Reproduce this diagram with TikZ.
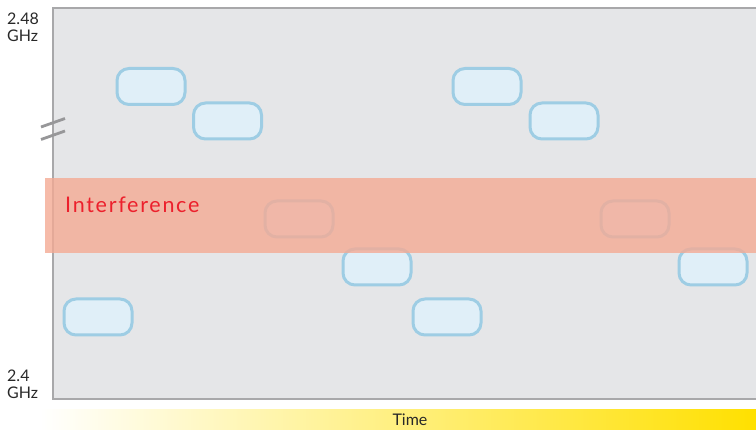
\documentclass[tikz,border=0pt]{standalone}
\usepackage{fontspec}
\setmainfont{Lato}
\usetikzlibrary{shadings}
\definecolor{plotbg}{RGB}{229,230,232}
\definecolor{framegray}{RGB}{168,168,170}
\definecolor{boxfill}{RGB}{224,239,248}
\definecolor{boxline}{RGB}{158,205,228}
\definecolor{bandcol}{RGB}{244,170,148}
\definecolor{intred}{RGB}{236,32,44}
\definecolor{timeyellow}{RGB}{255,224,0}
\definecolor{labelgray}{RGB}{40,40,40}
\tikzset{
  slot/.style={draw=boxline, fill=boxfill, line width=3pt, rounded corners=12pt,
    minimum width=68pt, minimum height=36pt, inner sep=0pt},
  axislabel/.style={text=labelgray, font=\fontsize{16}{17}\selectfont, align=left, anchor=north west, inner sep=0pt},
  framestyle/.style={draw=framegray, line width=1.5pt},
  breakstyle/.style={draw=framegray!90!black, line width=2.8pt}
}
\begin{document}
\begin{tikzpicture}[x=1pt,y=-1pt]
\useasboundingbox (0,0) rectangle (756,430);
% plot area
\fill[plotbg] (53,8) rectangle (760,399);
% slots
\node[slot] (s1) at (151,86.5) {};
\node[slot] (s2) at (227.5,121) {};
\node[slot] (s3) at (299,219) {};
\node[slot] (s4) at (377,267) {};
\node[slot] (s5) at (447,317) {};
\node[slot] (s6) at (98,317) {};
\node[slot] (s7) at (487,86.5) {};
\node[slot] (s8) at (564,121) {};
\node[slot] (s9) at (635,219) {};
\node[slot] (s10) at (713,267) {};
% frame lines
\draw[framestyle] (760,8) -- (53,8) -- (53,399) -- (760,399);
% interference band
\fill[bandcol, opacity=0.8] (45,178) rectangle (756,253);
\node[text=intred, anchor=west, inner sep=0pt, font=\fontsize{21.5}{24}\selectfont\addfontfeature{LetterSpace=8}] (intlabel) at (65,204.5) {Interference};
% break marks
\draw[breakstyle] (41,127) -- (65,118.5);
\draw[breakstyle] (41,139.5) -- (65,131);
% axis labels
\node[axislabel] (top) at (7,13) {2.48\\GHz};
\node[axislabel] (bottom) at (7,370) {2.4\\GHz};
% time bar
\shade[left color=white, right color=timeyellow] (40,410) rectangle (756,430);
\node[text=labelgray, font=\fontsize{16}{18}\selectfont, inner sep=0pt] (time) at (410,420) {Time};
\end{tikzpicture}
\end{document}
